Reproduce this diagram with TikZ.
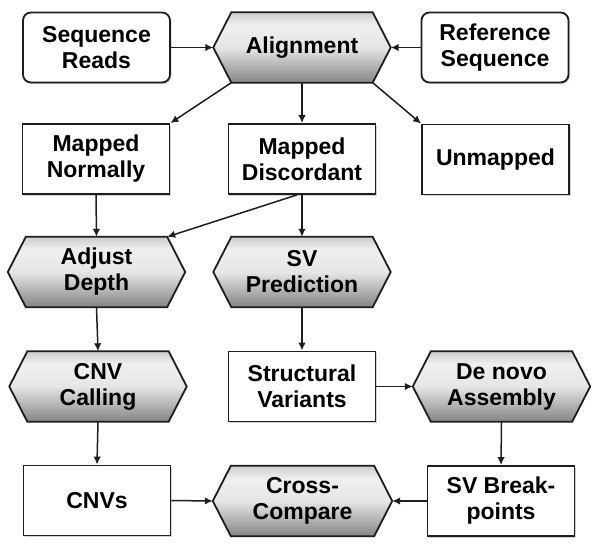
\documentclass[tikz,border=0pt]{standalone}
\usepackage{fontspec}
\setmainfont{Liberation Sans}
\usetikzlibrary{arrows.meta,shadows}
\pgfdeclarelayer{bg}
\pgfsetlayers{bg,main}
\definecolor{ln}{HTML}{1E1E1E}
\definecolor{hbot}{gray}{0.52}
\definecolor{hmid}{gray}{0.90}
\definecolor{hhi}{gray}{0.94}
\definecolor{htop}{gray}{0.80}
\pgfdeclareverticalshading{hexshade}{100bp}{color(0bp)=(hbot); color(25bp)=(hbot); color(50bp)=(hmid); color(66bp)=(hhi); color(75bp)=(htop); color(100bp)=(htop)}
\begin{document}
\begin{tikzpicture}[x=1pt,y=-1pt,
  txt/.style={font=\bfseries\fontsize{23}{26}\selectfont, align=center, text=black},
  boxn/.style={txt, draw=ln, line width=1.8pt, fill=white, minimum width=147pt, minimum height=70pt, inner sep=0pt,
    drop shadow={shadow xshift=1.5pt, shadow yshift=-1.5pt, opacity=0.35}},
  rbox/.style={boxn, rounded corners=8pt},
  hexn/.style={txt, minimum width=177pt, minimum height=70pt, inner sep=0pt},
  hexpath/.style={draw=ln, line width=1.8pt, shading=hexshade},
  hexshadow/.style={fill=black, opacity=0.3},
  conn/.style={draw=ln, line width=1.5pt, -{Latex[length=8pt,width=7.5pt]}}
]
\useasboundingbox (0,0) rectangle (602,552);

% row 1
\node[rbox] (seq) at (96.5,47.5) {Sequence\\Reads};
\node[hexn] (align) at (302,47.5) {Alignment};
\node[rbox] (ref) at (495,47.5) {Reference\\Sequence};
% row 2
\node[boxn] (mapN) at (96,159) {Mapped\\Normally};
\node[boxn] (mapD) at (302,159) {Mapped\\Discordant};
\node[boxn] (unm) at (495.5,159.5) {Unmapped};
% row 3
\node[hexn] (adjust) at (96.5,272) {Adjust\\Depth};
\node[hexn] (svpred) at (302,272) {SV\\Prediction};
% row 4
\node[hexn] (cnv) at (98,386.5) {CNV\\Calling};
\node[boxn] (sv) at (302,386.5) {Structural\\Variants};
\node[hexn] (denovo) at (501.5,386.5) {De novo\\Assembly};
% row 5
\node[boxn] (cnvs) at (97,500.5) {CNVs};
\node[hexn, minimum width=179pt] (cross) at (302.5,501) {Cross-\\Compare};
\node[boxn] (bp) at (501,501) {SV Break-\\points};

% hexagons
\begin{pgfonlayer}{bg}
\foreach \n in {align,adjust,svpred,cnv,denovo,cross}{
  \fill[hexshadow, xshift=1.5pt, yshift=-1.5pt] ([xshift=18pt]\n.north west) -- ([xshift=-18pt]\n.north east) -- (\n.east)
    -- ([xshift=-18pt]\n.south east) -- ([xshift=18pt]\n.south west) -- (\n.west) -- cycle;
  \draw[hexpath] ([xshift=18pt]\n.north west) -- ([xshift=-18pt]\n.north east) -- (\n.east)
    -- ([xshift=-18pt]\n.south east) -- ([xshift=18pt]\n.south west) -- (\n.west) -- cycle;
}
\end{pgfonlayer}

% connectors
\draw[conn] (seq.east) -- (align.west);
\draw[conn] (ref.west) -- (align.east);
\draw[conn] ([xshift=18pt]align.south west) -- (mapN.north east);
\draw[conn] (align.south) -- (mapD.north);
\draw[conn] ([xshift=-18pt]align.south east) -- (unm.north west);
\draw[conn] (mapN.south) -- (adjust.north);
\draw[conn] (mapD.south) -- (svpred.north);
\draw[conn] ([xshift=-5pt]mapD.south) -- ([xshift=-18pt]adjust.north east);
\draw[conn] (adjust.south) -- (cnv.north);
\draw[conn] (svpred.south) -- (sv.north);
\draw[conn] (sv.east) -- (denovo.west);
\draw[conn] (cnv.south) -- (cnvs.north);
\draw[conn] (denovo.south) -- (bp.north);
\draw[conn] (cnvs.east) -- (cross.west);
\draw[conn] (bp.west) -- (cross.east);
\end{tikzpicture}
\end{document}
